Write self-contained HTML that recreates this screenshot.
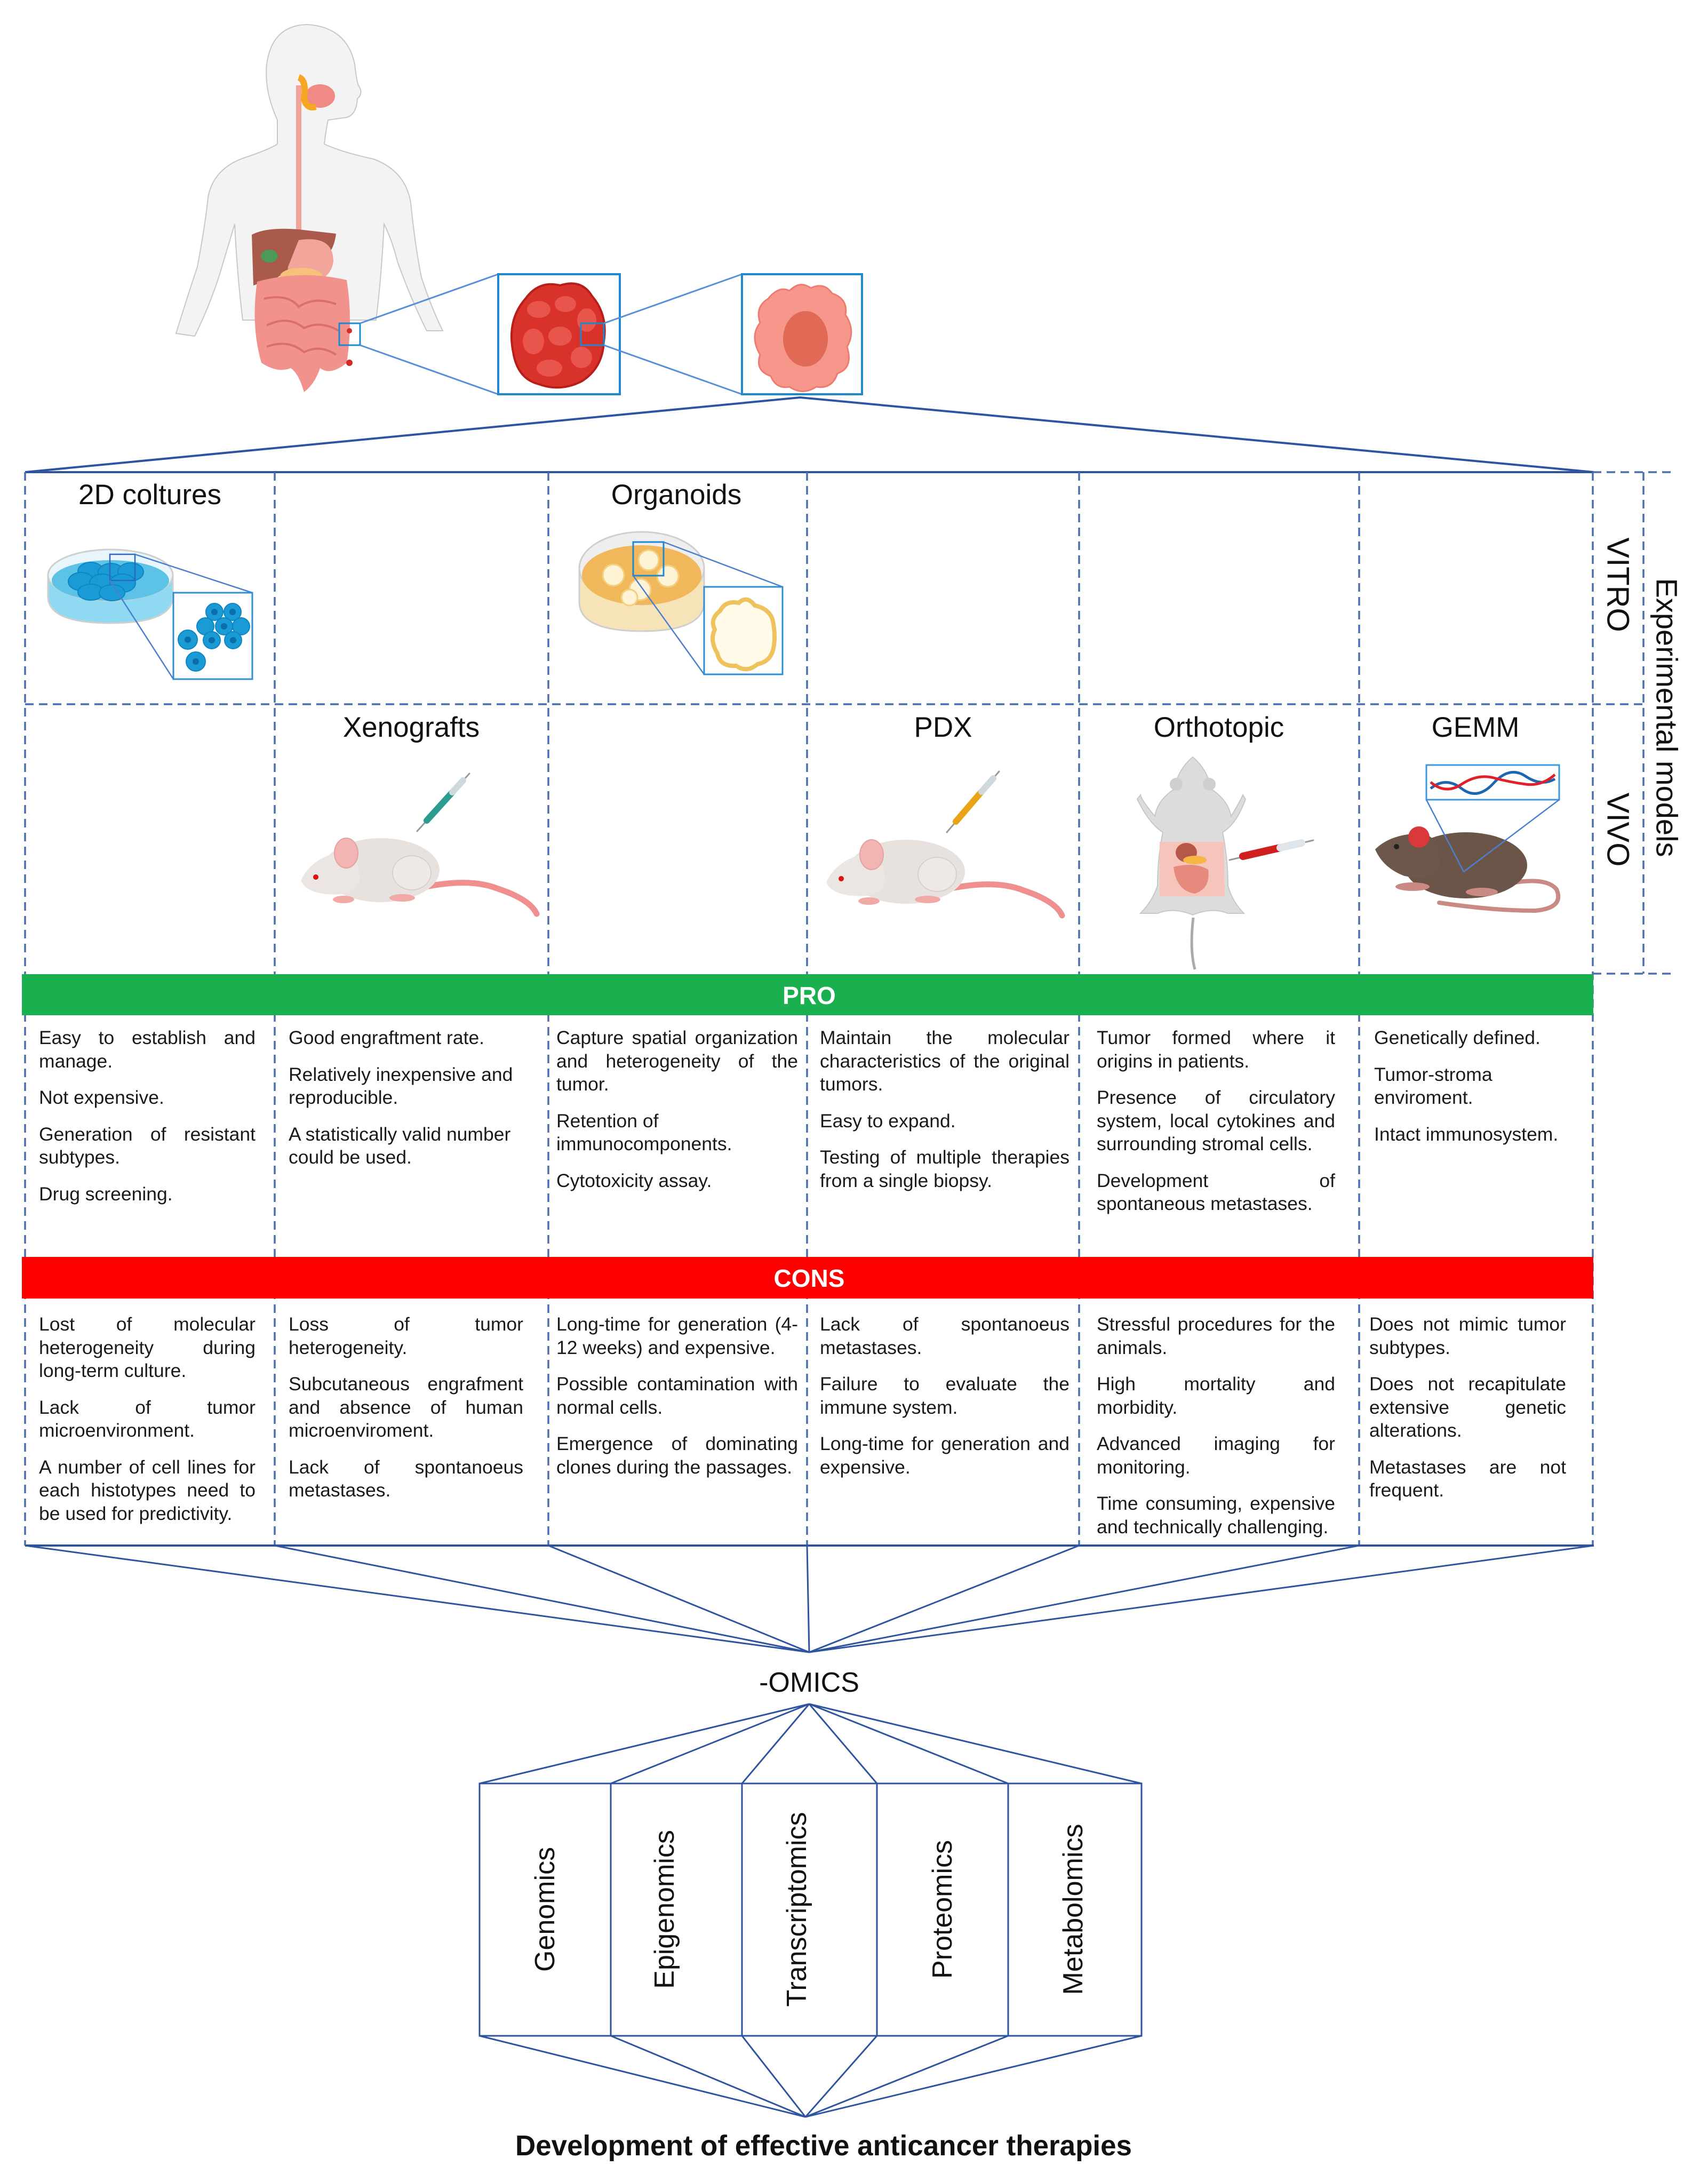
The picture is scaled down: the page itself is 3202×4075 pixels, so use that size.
<!DOCTYPE html>
<html><head><meta charset="utf-8">
<style>
html,body{margin:0;padding:0;background:#fff;}
body{width:3202px;height:4075px;position:relative;overflow:hidden;font-family:"Liberation Sans",Arial,sans-serif;}
svg{position:absolute;left:0;top:0;}
.c{position:absolute;font-size:35.5px;line-height:43.5px;color:#1a1a1a;text-align:justify;}
.c p{margin:0 0 25px 0;}
</style></head><body>
<svg width="3202" height="4075" viewBox="0 0 3202 4075" xmlns="http://www.w3.org/2000/svg" font-family="Liberation Sans, Arial, sans-serif">
<g>
<path d="M520 225 Q495 170 500 120 Q510 48 575 46 Q650 50 665 120 Q668 150 672 160 Q682 175 670 185 Q668 215 650 220 L615 225 Q610 250 608 270 Q640 285 700 298 Q760 320 770 380 Q778 460 790 520 Q810 580 830 620 L800 620 Q770 560 745 490 Q735 450 720 420 Q715 520 705 600 L455 600 Q445 520 440 420 Q425 470 410 520 Q390 580 365 630 L330 625 Q350 560 370 500 Q385 420 390 370 Q400 315 460 295 Q505 280 520 270 Z" fill="#f3f3f3" stroke="#c8c8c8" stroke-width="2"/>
<path d="M560 160 L560 440" stroke="#f4a39a" stroke-width="10" fill="none"/>
<ellipse cx="600" cy="180" rx="28" ry="22" fill="#f08a86"/>
<path d="M560 145 Q575 150 570 185 Q575 205 592 200" stroke="#f5a623" stroke-width="12" fill="none"/>
<path d="M472 440 Q500 425 560 430 L630 438 Q625 480 595 490 Q550 500 520 520 L475 535 Z" fill="#a95a4a"/>
<ellipse cx="505" cy="480" rx="16" ry="12" fill="#4c9a5a"/>
<path d="M560 450 Q625 440 625 490 Q620 530 560 535 Q535 530 540 500 Z" fill="#f4a59b"/>
<ellipse cx="565" cy="518" rx="40" ry="16" fill="#f6c17a"/>
<path d="M482 528 Q565 505 650 525 Q662 600 650 680 Q620 705 600 690 Q590 720 570 735 Q560 700 545 690 Q520 700 490 680 Q470 610 482 528 Z" fill="#f2928c"/>
<path d="M495 560 Q540 550 560 575 Q590 555 630 570 M500 610 Q540 590 570 615 Q600 600 635 620 M500 650 Q540 635 570 660 Q600 645 630 665" stroke="#d9706c" stroke-width="4" fill="none"/>
<circle cx="655" cy="620" r="5" fill="#d32a2a"/><circle cx="655" cy="680" r="6" fill="#d32a2a"/>
<rect x="636" y="606" width="39" height="41" fill="none" stroke="#1e88d0" stroke-width="3"/>
</g>
<line x1="675" y1="606" x2="934" y2="514" stroke="#5a8fd8" stroke-width="3"/>
<line x1="675" y1="647" x2="934" y2="739" stroke="#5a8fd8" stroke-width="3"/>
<rect x="934" y="514" width="228" height="225" fill="#fff" stroke="#1e88d0" stroke-width="4"/>
<path d="M985 560 Q1010 525 1050 535 Q1090 522 1110 555 Q1140 590 1132 640 Q1130 690 1090 715 Q1050 735 1010 720 Q970 710 962 660 Q950 600 985 560 Z" fill="#d8322a" stroke="#b81f1a" stroke-width="4"/>
<g fill="#e8554c"><ellipse cx="1010" cy="580" rx="22" ry="16"/><ellipse cx="1060" cy="570" rx="20" ry="15"/><ellipse cx="1100" cy="600" rx="18" ry="22"/><ellipse cx="1000" cy="640" rx="20" ry="24"/><ellipse cx="1050" cy="630" rx="22" ry="18"/><ellipse cx="1030" cy="690" rx="24" ry="16"/><ellipse cx="1090" cy="670" rx="20" ry="20"/></g>
<rect x="1089" y="606" width="43" height="41" fill="none" stroke="#1e88d0" stroke-width="3"/>
<line x1="1132" y1="606" x2="1391" y2="514" stroke="#5a8fd8" stroke-width="3"/>
<line x1="1132" y1="647" x2="1391" y2="739" stroke="#5a8fd8" stroke-width="3"/>
<rect x="1391" y="514" width="225" height="225" fill="#fff" stroke="#1e88d0" stroke-width="4"/>
<path d="M1440 560 Q1460 535 1480 545 Q1500 525 1520 540 Q1545 528 1560 550 Q1590 560 1585 590 Q1605 620 1588 650 Q1600 690 1570 700 Q1560 730 1530 725 Q1505 742 1480 725 Q1455 730 1445 705 Q1415 695 1425 665 Q1405 630 1425 605 Q1415 575 1440 560 Z" fill="#f7968b" stroke="#ef7b70" stroke-width="3"/>
<ellipse cx="1510" cy="635" rx="42" ry="52" fill="#e06a55"/>
<polyline points="47,885 1500,745 2988,885" fill="none" stroke="#2e54a0" stroke-width="4"/>
<line x1="47" y1="885" x2="2988" y2="885" stroke="#2e54a0" stroke-width="4"/>
<g stroke="#4b6eb0" stroke-width="3.5" stroke-dasharray="16 10" fill="none">
<line x1="47" y1="885" x2="47" y2="2897"/>
<line x1="515" y1="885" x2="515" y2="2897"/>
<line x1="1028" y1="885" x2="1028" y2="2897"/>
<line x1="1513" y1="885" x2="1513" y2="2897"/>
<line x1="2023" y1="885" x2="2023" y2="2897"/>
<line x1="2548" y1="885" x2="2548" y2="2897"/>
<line x1="2986" y1="885" x2="2986" y2="2897"/>
<line x1="47" y1="1320" x2="3081" y2="1320"/>
<line x1="3081" y1="885" x2="3081" y2="1825"/>
<line x1="2986" y1="885" x2="3138" y2="885"/>
<line x1="2986" y1="1825" x2="3138" y2="1825"/>
</g>
<g font-size="53" fill="#111" text-anchor="middle">
<text x="281" y="945">2D coltures</text>
<text x="1268" y="945">Organoids</text>
<text x="771" y="1381">Xenografts</text>
<text x="1768" y="1381">PDX</text>
<text x="2285" y="1381">Orthotopic</text>
<text x="2766" y="1381">GEMM</text>
</g>
<g font-size="58" fill="#111" text-anchor="middle">
<text transform="translate(3033,1096) rotate(90)" dominant-baseline="central">VITRO</text>
<text transform="translate(3033,1555) rotate(90)" dominant-baseline="central">VIVO</text>
<text transform="translate(3125,1345) rotate(90)" dominant-baseline="central" font-size="56">Experimental models</text>
</g>
<g>
<path d="M90 1078 L90 1118 Q90 1168 207 1168 Q324 1168 324 1118 L324 1078 Z" fill="#8fd9f2" stroke="#cfcfcf" stroke-width="3"/>
<ellipse cx="207" cy="1078" rx="117" ry="48" fill="#e8f6fb" stroke="#cfcfcf" stroke-width="3"/>
<ellipse cx="207" cy="1088" rx="110" ry="38" fill="#5cc3e6"/>
<g fill="#1a9bd6" stroke="#0f86c2" stroke-width="2">
<ellipse cx="170" cy="1071" rx="24" ry="17"/><ellipse cx="208" cy="1073" rx="24" ry="17"/><ellipse cx="245" cy="1072" rx="24" ry="17"/><ellipse cx="152" cy="1090" rx="24" ry="17"/><ellipse cx="192" cy="1093" rx="24" ry="17"/><ellipse cx="230" cy="1093" rx="24" ry="17"/><ellipse cx="170" cy="1110" rx="24" ry="15"/><ellipse cx="210" cy="1111" rx="24" ry="15"/>
</g>
<rect x="206" y="1039" width="47" height="49" fill="none" stroke="#2e66c0" stroke-width="2.5"/>
<line x1="253" y1="1039" x2="473" y2="1111" stroke="#4a7fd0" stroke-width="2.5"/>
<line x1="206" y1="1088" x2="325" y2="1273" stroke="#4a7fd0" stroke-width="2.5"/>
<rect x="325" y="1111" width="148" height="162" fill="#fff" stroke="#2c8fd6" stroke-width="3"/>
<g fill="#1a9bd6" stroke="#0f86c2" stroke-width="2">
<circle cx="402" cy="1147" r="16"/><circle cx="436" cy="1147" r="16"/><circle cx="385" cy="1174" r="16"/><circle cx="420" cy="1174" r="16"/><circle cx="452" cy="1174" r="16"/><circle cx="397" cy="1200" r="16"/><circle cx="437" cy="1200" r="16"/><circle cx="352" cy="1199" r="18"/><circle cx="367" cy="1240" r="18"/>
</g>
<g fill="#0b6ea8"><circle cx="402" cy="1147" r="6"/><circle cx="436" cy="1147" r="6"/><circle cx="420" cy="1174" r="6"/><circle cx="397" cy="1200" r="6"/><circle cx="437" cy="1200" r="6"/><circle cx="352" cy="1199" r="6"/><circle cx="367" cy="1240" r="6"/></g>
</g>
<g>
<path d="M1086 1065 L1086 1128 Q1086 1183 1203 1183 Q1320 1183 1320 1128 L1320 1065 Z" fill="#f6e3b8" stroke="#cfcfcf" stroke-width="3"/>
<ellipse cx="1203" cy="1065" rx="117" ry="68" fill="#eeeeee" stroke="#cfcfcf" stroke-width="3"/>
<ellipse cx="1203" cy="1078" rx="112" ry="56" fill="#f0b85a"/>
<g fill="#fff3d6" stroke="#f3cf7e" stroke-width="3">
<circle cx="1150" cy="1078" r="20"/><circle cx="1216" cy="1050" r="19"/><circle cx="1252" cy="1080" r="20"/><circle cx="1200" cy="1105" r="20"/><circle cx="1180" cy="1120" r="15"/>
</g>
<rect x="1187" y="1016" width="57" height="63" fill="none" stroke="#1e88d0" stroke-width="3"/>
<line x1="1244" y1="1016" x2="1467" y2="1100" stroke="#4a7fd0" stroke-width="2.5"/>
<line x1="1187" y1="1079" x2="1320" y2="1264" stroke="#4a7fd0" stroke-width="2.5"/>
<rect x="1320" y="1100" width="147" height="164" fill="#fff" stroke="#2c8fd6" stroke-width="3"/>
<path d="M1350 1145 Q1360 1125 1385 1130 Q1400 1115 1415 1135 Q1440 1140 1448 1160 Q1455 1190 1450 1215 Q1445 1240 1420 1245 Q1400 1262 1380 1248 Q1350 1250 1345 1225 Q1330 1200 1340 1180 Q1330 1160 1350 1145 Z" fill="#fffbe8" stroke="#eec25c" stroke-width="8"/>
</g>
<defs>
<g id="mouse">
<path d="M250 110 Q330 95 380 115 Q440 135 452 162" stroke="#ef8f8f" stroke-width="11" fill="none" stroke-linecap="round"/>
<ellipse cx="160" cy="80" rx="110" ry="60" fill="#e8e2df"/>
<ellipse cx="218" cy="85" rx="36" ry="32" fill="#eee9e6" stroke="#d9d0cb" stroke-width="2"/>
<path d="M10 100 Q30 55 90 45 Q120 50 120 100 Q110 130 60 125 Q20 122 10 100 Z" fill="#ece6e3"/>
<ellipse cx="95" cy="48" rx="22" ry="28" fill="#f3b5b3" stroke="#e0a3a0" stroke-width="2"/>
<circle cx="38" cy="93" r="5" fill="#d11"/>
<ellipse cx="90" cy="135" rx="20" ry="7" fill="#f0a9a4"/>
<ellipse cx="200" cy="132" rx="24" ry="7" fill="#f0a9a4"/>
</g>
</defs>
<use href="#mouse" transform="translate(554,1551)"/>
<use href="#mouse" transform="translate(1539,1554)"/>
<g stroke-linecap="round">
<line x1="782" y1="1558" x2="880" y2="1450" stroke="#999" stroke-width="3"/>
<line x1="800" y1="1538" x2="848" y2="1485" stroke="#2a9d8f" stroke-width="12"/>
<line x1="848" y1="1485" x2="868" y2="1463" stroke="#cfd8dc" stroke-width="12"/>
<line x1="1775" y1="1560" x2="1873" y2="1446" stroke="#999" stroke-width="3"/>
<line x1="1792" y1="1540" x2="1840" y2="1484" stroke="#e8a317" stroke-width="12"/>
<line x1="1840" y1="1484" x2="1862" y2="1459" stroke="#cfd8dc" stroke-width="12"/>
<line x1="2305" y1="1612" x2="2462" y2="1575" stroke="#999" stroke-width="3"/>
<line x1="2330" y1="1605" x2="2400" y2="1589" stroke="#d0201d" stroke-width="14"/>
<line x1="2400" y1="1589" x2="2440" y2="1580" stroke="#dfe5e8" stroke-width="14"/>
</g>
<g>
<path d="M2237 1720 Q2230 1780 2240 1817" stroke="#aaa" stroke-width="5" fill="none"/>
<path d="M2236 1419 Q2210 1440 2200 1480 Q2170 1500 2165 1530 Q2140 1500 2138 1490 L2132 1498 Q2155 1545 2180 1560 Q2170 1610 2170 1660 Q2160 1690 2138 1712 L2170 1712 Q2200 1700 2236 1715 Q2272 1700 2302 1712 L2332 1712 Q2310 1690 2302 1660 Q2302 1610 2292 1560 Q2318 1545 2335 1498 L2330 1490 Q2326 1500 2308 1530 Q2302 1500 2272 1480 Q2262 1440 2236 1419 Z" fill="#dcdcdc" stroke="#c8c8c8" stroke-width="2"/>
<circle cx="2205" cy="1470" r="12" fill="#cfcfcf"/><circle cx="2267" cy="1470" r="12" fill="#cfcfcf"/>
<path d="M2174 1578 L2294 1578 L2296 1680 L2174 1680 Z" fill="#f7c4bc"/>
<ellipse cx="2224" cy="1598" rx="20" ry="18" fill="#b5584a"/>
<ellipse cx="2240" cy="1612" rx="22" ry="8" fill="#f5b642"/>
<path d="M2200 1625 Q2240 1615 2265 1630 Q2270 1665 2240 1675 Q2205 1670 2200 1625 Z" fill="#e68a7e"/>
</g>
<g transform="translate(2578,1527)">
<path d="M245 130 Q320 115 340 140 Q355 175 300 180 Q220 180 120 165" stroke="#c98a84" stroke-width="8" fill="none" stroke-linecap="round"/>
<ellipse cx="170" cy="95" rx="115" ry="62" fill="#6b5548"/>
<path d="M0 65 Q30 35 90 35 Q125 45 120 100 Q105 125 55 115 Q15 100 0 65 Z" fill="#6d574a"/>
<circle cx="82" cy="42" r="20" fill="#d9393a"/>
<circle cx="40" cy="60" r="5" fill="#222"/>
<ellipse cx="70" cy="135" rx="32" ry="8" fill="#c98a84"/>
<ellipse cx="200" cy="145" rx="30" ry="8" fill="#c98a84"/>
</g>
<rect x="2674" y="1434" width="249" height="65" fill="#fff" stroke="#3a9ae0" stroke-width="3"/>
<path d="M2682 1478 Q2710 1455 2740 1478 T2800 1468 T2860 1455 T2915 1460" stroke="#1f66b0" stroke-width="5" fill="none"/>
<path d="M2682 1466 Q2710 1490 2740 1470 T2800 1458 T2860 1470 T2915 1452" stroke="#e0202a" stroke-width="5" fill="none"/>
<line x1="2674" y1="1499" x2="2744" y2="1634" stroke="#4a7fd0" stroke-width="2.5"/>
<line x1="2923" y1="1499" x2="2744" y2="1634" stroke="#4a7fd0" stroke-width="2.5"/>
<rect x="41" y="1826" width="2946" height="77" fill="#1aaf4f"/>
<text x="1517" y="1882" font-size="46" font-weight="bold" fill="#fff" text-anchor="middle">PRO</text>
<rect x="41" y="2356" width="2946" height="78" fill="#ff0000"/>
<text x="1517" y="2412" font-size="46" font-weight="bold" fill="#fff" text-anchor="middle">CONS</text>
<line x1="47" y1="2897" x2="2988" y2="2897" stroke="#2e54a0" stroke-width="4"/>
<g stroke="#2e54a0" stroke-width="3" fill="none">
<line x1="47" y1="2897" x2="1517" y2="3097"/>
<line x1="515" y1="2897" x2="1517" y2="3097"/>
<line x1="1028" y1="2897" x2="1517" y2="3097"/>
<line x1="1513" y1="2897" x2="1517" y2="3097"/>
<line x1="2023" y1="2897" x2="1517" y2="3097"/>
<line x1="2548" y1="2897" x2="1517" y2="3097"/>
<line x1="2988" y1="2897" x2="1517" y2="3097"/>
<line x1="899" y1="3343" x2="1517" y2="3194"/>
<line x1="1145" y1="3343" x2="1517" y2="3194"/>
<line x1="1391" y1="3343" x2="1517" y2="3194"/>
<line x1="1644" y1="3343" x2="1517" y2="3194"/>
<line x1="1890" y1="3343" x2="1517" y2="3194"/>
<line x1="2140" y1="3343" x2="1517" y2="3194"/>
<rect x="899" y="3343" width="1241" height="473"/>
<line x1="1145" y1="3343" x2="1145" y2="3816"/>
<line x1="1391" y1="3343" x2="1391" y2="3816"/>
<line x1="1644" y1="3343" x2="1644" y2="3816"/>
<line x1="1890" y1="3343" x2="1890" y2="3816"/>
<line x1="899" y1="3816" x2="1510" y2="3968"/>
<line x1="1145" y1="3816" x2="1510" y2="3968"/>
<line x1="1391" y1="3816" x2="1510" y2="3968"/>
<line x1="1644" y1="3816" x2="1510" y2="3968"/>
<line x1="1890" y1="3816" x2="1510" y2="3968"/>
<line x1="2140" y1="3816" x2="1510" y2="3968"/>
</g>
<text x="1517" y="3171" font-size="52" fill="#111" text-anchor="middle">-OMICS</text>
<g font-size="52" fill="#111" text-anchor="middle" dominant-baseline="central">
<text transform="translate(1022,3579) rotate(-90)">Genomics</text>
<text transform="translate(1246,3579) rotate(-90)">Epigenomics</text>
<text transform="translate(1494,3579) rotate(-90)">Transcriptomics</text>
<text transform="translate(1767,3579) rotate(-90)">Proteomics</text>
<text transform="translate(2012,3579) rotate(-90)">Metabolomics</text>
</g>
<text x="966" y="4040" font-size="54" font-weight="bold" fill="#111" textLength="1156" lengthAdjust="spacingAndGlyphs">Development of effective anticancer therapies</text>
</svg>

<div class="c" style="left:73px;top:1924px;width:406px;"><p>Easy to establish and manage.</p><p>Not expensive.</p><p>Generation of resistant subtypes.</p><p>Drug screening.</p></div>
<div class="c" style="left:541px;top:1924px;width:440px;text-align:left;"><p>Good engraftment rate.</p><p>Relatively inexpensive and reproducible.</p><p>A statistically valid number could be used.</p></div>
<div class="c" style="left:1043px;top:1924px;width:453px;"><p>Capture spatial organization and heterogeneity of the tumor.</p><p style="text-align:left">Retention of immunocomponents.</p><p>Cytotoxicity assay.</p></div>
<div class="c" style="left:1537px;top:1924px;width:468px;"><p>Maintain the molecular characteristics of the original tumors.</p><p>Easy to expand.</p><p>Testing of multiple therapies from a single biopsy.</p></div>
<div class="c" style="left:2056px;top:1924px;width:447px;"><p>Tumor formed where it origins in patients.</p><p>Presence of circulatory system, local cytokines and surrounding stromal cells.</p><p>Development of spontaneous metastases.</p></div>
<div class="c" style="left:2576px;top:1924px;width:360px;"><p>Genetically defined.</p><p>Tumor-stroma enviroment.</p><p>Intact immunosystem.</p></div>

<div class="c" style="left:73px;top:2461px;width:406px;"><p>Lost of molecular heterogeneity during long-term culture.</p><p>Lack of tumor microenvironment.</p><p>A number of cell lines for each histotypes need to be used for predictivity.</p></div>
<div class="c" style="left:541px;top:2461px;width:440px;"><p>Loss of tumor heterogeneity.</p><p>Subcutaneous engrafment and absence of human microenviroment.</p><p>Lack of spontanoeus metastases.</p></div>
<div class="c" style="left:1043px;top:2461px;width:453px;"><p>Long-time for generation (4-12 weeks) and expensive.</p><p>Possible contamination with normal cells.</p><p>Emergence of dominating clones during the passages.</p></div>
<div class="c" style="left:1537px;top:2461px;width:468px;"><p>Lack of spontanoeus metastases.</p><p>Failure to evaluate the immune system.</p><p>Long-time for generation and expensive.</p></div>
<div class="c" style="left:2056px;top:2461px;width:447px;"><p>Stressful procedures for the animals.</p><p>High mortality and morbidity.</p><p>Advanced imaging for monitoring.</p><p>Time consuming, expensive and technically challenging.</p></div>
<div class="c" style="left:2567px;top:2461px;width:369px;"><p>Does not mimic tumor subtypes.</p><p>Does not recapitulate extensive genetic alterations.</p><p>Metastases are not frequent.</p></div>
</body></html>
